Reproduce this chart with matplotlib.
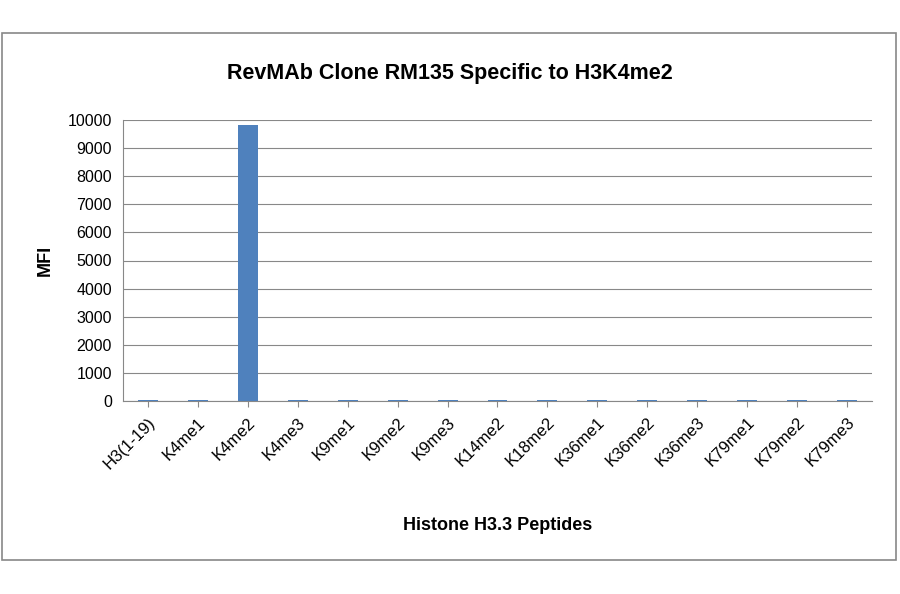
import matplotlib
matplotlib.use("Agg")
import matplotlib.pyplot as plt
from matplotlib.patches import Rectangle

categories = ["H3(1-19)", "K4me1", "K4me2", "K4me3", "K9me1", "K9me2", "K9me3", "K14me2",
              "K18me2", "K36me1", "K36me2", "K36me3", "K79me1", "K79me2", "K79me3"]
values = [40, 40, 9830, 40, 40, 40, 40, 40, 40, 40, 40, 40, 40, 40, 40]

plt.rcParams['font.family'] = ['Liberation Sans', 'DejaVu Sans']
fig = plt.figure(figsize=(9, 5.94), dpi=100)
fig.patches.append(Rectangle((2/900, 1-560/594), 894/900, 527/594, transform=fig.transFigure,
                             fill=False, edgecolor='#888888', linewidth=1.2))
ax = fig.add_axes([123/900, 1-401/594, 749/900, 281/594])
x = range(len(categories))
ax.bar(x, values, width=0.4, color='#4F81BD', zorder=3)
ax.set_xlim(-0.5, len(categories)-0.5)
ax.set_ylim(0, 10000)
ax.set_yticks(range(0, 10001, 1000))
ax.yaxis.grid(True, color='#888888', linewidth=0.8, zorder=0)
ax.set_xticks(list(x))
ax.set_xticklabels(categories, rotation=45, ha='right', rotation_mode='anchor', fontsize=12)
ax.tick_params(axis='y', labelsize=11.5, length=0, pad=8)
ax.tick_params(axis='x', length=4, color='#888888', pad=6)
for s in ['top', 'right']:
    ax.spines[s].set_visible(False)
ax.spines['left'].set_color('#888888')
ax.spines['bottom'].set_color('#888888')
ax.set_ylabel("MFI", fontsize=13, fontweight='bold', labelpad=10)
ax.set_xlabel("Histone H3.3 Peptides", fontsize=13, fontweight='bold', labelpad=32)
fig.text(0.5, 1-73/594, "RevMAb Clone RM135 Specific to H3K4me2", ha='center', va='center',
         fontsize=15.5, fontweight='bold')
fig.savefig("out.png", dpi=100)
